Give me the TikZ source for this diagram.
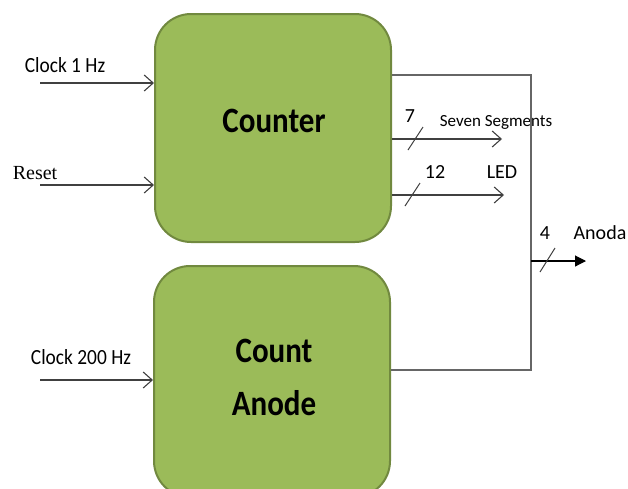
\documentclass[tikz,border=0pt]{standalone}
\usepackage{fontspec}
\setmainfont{Carlito}
\newfontfamily\timesfont{Liberation Serif}
\usetikzlibrary{arrows.meta}
\definecolor{boxfill}{HTML}{9BBB59}
\definecolor{boxline}{HTML}{71893F}
\definecolor{wirecol}{HTML}{404040}
\begin{document}
\begin{tikzpicture}[x=1pt,y=-1pt,
  block/.style={draw=boxline, line width=2pt, fill=boxfill, rounded corners=36pt,
    minimum width=236pt, inner sep=0pt},
  blocktext/.style={font=\fontsize{31}{53}\selectfont\bfseries, align=center, inner sep=0pt},
  lbl/.style={font=\fontsize{20}{24}\selectfont, inner sep=0pt},
  smalllbl/.style={font=\fontsize{17}{20}\selectfont, inner sep=0pt},
  wire/.style={draw=wirecol, line width=1.1pt},
  inarrow/.style={wire, -{Straight Barb[length=9pt,width=16pt,line width=1.1pt]}},
  busarrow/.style={wire, -{Triangle[length=11pt,width=11pt]}},
  slash/.style={draw=wirecol, line width=1pt}
]
\useasboundingbox (0,0) rectangle (628,488);
\clip (0,0) rectangle (628,488);

% blocks
\node[block, minimum height=228pt] (counter) at (273,128) {};
\node[block, minimum height=231pt] (anode) at (272,381.5) {};
\node[blocktext] (countertxt) at (274,121) {\scalebox{1}[1.15]{Counter}};
\node[blocktext] (anodetxt) at (274,377) {\scalebox{1}[1.15]{Count}\\\scalebox{1}[1.15]{Anode}};

% inputs
\coordinate (clk1) at (40,83);
\coordinate (rst) at (40,185);
\coordinate (clk200) at (40,380);
\draw[inarrow] (clk1) -- (counter.west |- clk1);
\draw[inarrow] (rst) -- (counter.west |- rst);
\draw[inarrow] (clk200) -- (anode.west |- clk200);
\node[lbl] (clk1lbl) at (65,65) {\scalebox{0.97}[1.08]{Clock 1 Hz}};
\node[lbl, font=\timesfont\fontsize{20}{24}\selectfont] (rstlbl) at (35,173) {Reset};
\node[lbl] (clk200lbl) at (81,357) {\scalebox{0.97}[1.08]{Clock 200 Hz}};

% outputs
\coordinate (segend) at (502,139);
\coordinate (ledend) at (504,195);
\draw[inarrow] (counter.east |- segend) -- (segend);
\draw[inarrow] (counter.east |- ledend) -- (ledend);
\draw[slash] (408,150) -- (423,127);
\draw[slash] (405,206) -- (420,183);
\node[lbl] (seven) at (410,116) {7};
\node[smalllbl] (seglbl) at (496,122) {Seven Segments};
\node[lbl] (twelve) at (435,172) {12};
\node[lbl] (ledlbl) at (502,172) {LED};

% anode bus
\coordinate (bus) at (531,261);
\coordinate (anodaend) at (586,261);
\draw[wire, draw=black!60] (counter.east |- 0,75) -| (bus) |- (anode.east |- 0,370);
\draw[busarrow, draw=black] (bus) -- (anodaend);
\draw[slash] (540,272) -- (555,248);
\node[lbl] (four) at (545,233) {4};
\node[lbl] (anodalbl) at (600,233) {Anoda};
\end{tikzpicture}
\end{document}
